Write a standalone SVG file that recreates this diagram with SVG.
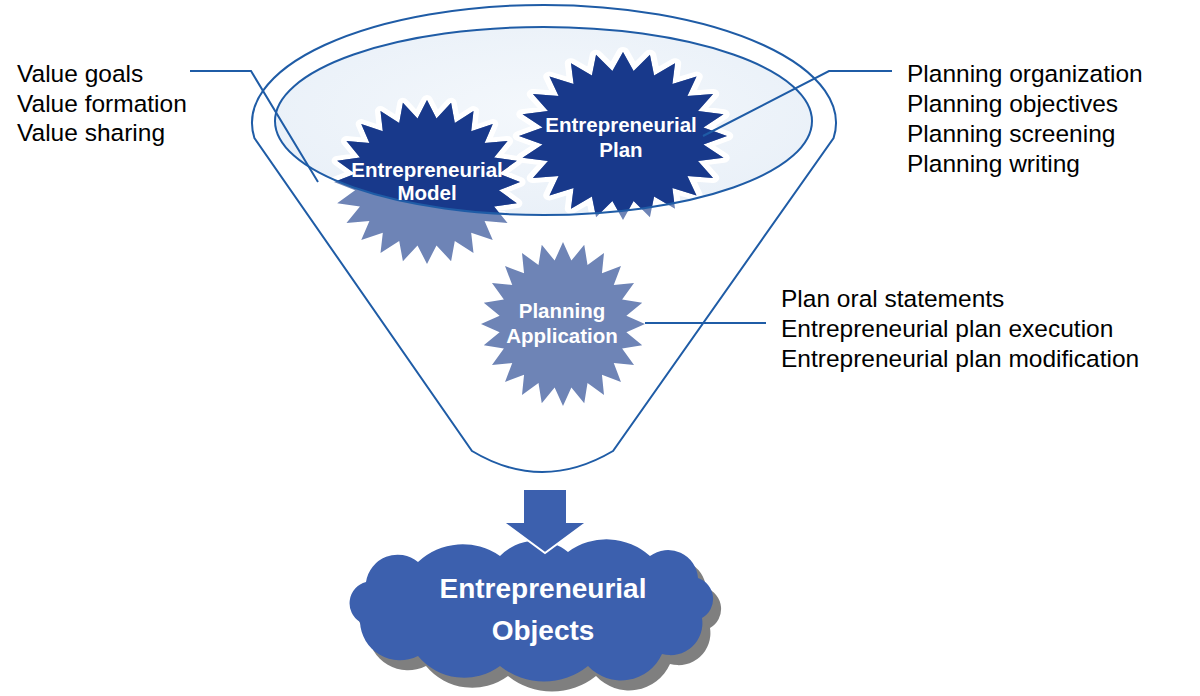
<svg xmlns="http://www.w3.org/2000/svg" xmlns:xlink="http://www.w3.org/1999/xlink" width="1200" height="696" viewBox="0 0 1200 696">
<style>
.line{fill:none;stroke:#1f5ca6;stroke-width:2}
.list{font-family:"Liberation Sans",Arial,sans-serif;font-size:24.5px;fill:#000}
.lbl{font-family:"Liberation Sans",Arial,sans-serif;font-size:20.5px;font-weight:bold;fill:#fff;text-anchor:middle}
.big{font-family:"Liberation Sans",Arial,sans-serif;font-size:28px;font-weight:bold;fill:#fff;text-anchor:middle}
.halo{fill:#fff;stroke:#fff;stroke-width:12;stroke-linejoin:round}
.light{fill:#6e84b6}
.dark{fill:#18398b}
</style>
<defs>
<polygon id="star" points="100,0 77.3,10.2 96.6,25.9 72.1,29.9 86.6,50 61.9,47.5 70.7,70.7 47.5,61.9 50,86.6 29.9,72.1 25.9,96.6 10.2,77.3 0,100 -10.2,77.3 -25.9,96.6 -29.9,72.1 -50,86.6 -47.5,61.9 -70.7,70.7 -61.9,47.5 -86.6,50 -72.1,29.9 -96.6,25.9 -77.3,10.2 -100,0 -77.3,-10.2 -96.6,-25.9 -72.1,-29.9 -86.6,-50 -61.9,-47.5 -70.7,-70.7 -47.5,-61.9 -50,-86.6 -29.9,-72.1 -25.9,-96.6 -10.2,-77.3 0,-100 10.2,-77.3 25.9,-96.6 29.9,-72.1 50,-86.6 47.5,-61.9 70.7,-70.7 61.9,-47.5 86.6,-50 72.1,-29.9 96.6,-25.9 77.3,-10.2"/>
<clipPath id="inner"><ellipse cx="543.5" cy="121" rx="268.5" ry="94"/></clipPath>
<radialGradient id="bowl" cx="0.5" cy="0.45" r="0.6">
<stop offset="0" stop-color="#f4f8fc"/>
<stop offset="1" stop-color="#e9f0f8"/>
</radialGradient>
<path id="cloudShape" d="M360,622 A22,22 0 0 1 366,582 A32,32 0 0 1 418,562 A65,65 0 0 1 500,556 A50,50 0 0 1 568,552 A65,65 0 0 1 650,556 A30,30 0 0 1 698,578 A22,22 0 0 1 702,618 A32,32 0 0 1 662,654 A45,45 0 0 1 588,666 A70,70 0 0 1 500,666 A60,60 0 0 1 418,656 A40,40 0 0 1 360,622 Z"/>
</defs>

<g id="funnel">
<path class="line" style="fill:#fff" d="M254.4,138 A292,118 0 1 1 833.6,138 L613,451 Q542,493 472,451 Z"/>
<ellipse cx="543.5" cy="121" rx="268.5" ry="94" fill="url(#bowl)"/>
</g>

<g id="halos" clip-path="url(#inner)">
<use xlink:href="#star" class="halo" transform="translate(427,182) scale(0.93,0.82)"/>
<use xlink:href="#star" class="halo" transform="translate(623,136) scale(1.04,0.84)"/>
</g>

<g id="model">
<use xlink:href="#star" class="light" transform="translate(427,182) scale(0.93,0.82)"/>
<g clip-path="url(#inner)"><use xlink:href="#star" class="dark" transform="translate(427,182) scale(0.93,0.82)"/></g>
</g>
<g id="plan">
<use xlink:href="#star" class="light" transform="translate(623,136) scale(1.04,0.84)"/>
<g clip-path="url(#inner)"><use xlink:href="#star" class="dark" transform="translate(623,136) scale(1.04,0.84)"/></g>
</g>
<g id="application">
<use xlink:href="#star" class="light" transform="translate(563,324) scale(0.82,0.82)"/>
</g>

<ellipse class="line" cx="543.5" cy="121" rx="268.5" ry="94"/>

<g id="connectors">
<polyline class="line" points="190,71 251,71 318,182"/>
<polyline class="line" points="892,71 829,71 703,136"/>
<line class="line" x1="645" y1="323" x2="766" y2="323"/>
</g>

<g id="star-labels">
<text class="lbl" x="427" y="177">Entrepreneurial</text><text class="lbl" x="427" y="200">Model</text>
<text class="lbl" x="621" y="132">Entrepreneurial</text><text class="lbl" x="621" y="157">Plan</text>
<text class="lbl" x="562" y="318">Planning</text><text class="lbl" x="562" y="343">Application</text>
</g>

<g id="value-list">
<text class="list" x="17" y="82">Value goals</text>
<text class="list" x="17" y="112">Value formation</text>
<text class="list" x="17" y="141">Value sharing</text>
</g>
<g id="planning-list">
<text class="list" x="907" y="82">Planning organization</text>
<text class="list" x="907" y="112">Planning objectives</text>
<text class="list" x="907" y="142">Planning screening</text>
<text class="list" x="907" y="172">Planning writing</text>
</g>
<g id="application-list">
<text class="list" x="781" y="307">Plan oral statements</text>
<text class="list" x="781" y="337">Entrepreneurial plan execution</text>
<text class="list" x="781" y="367">Entrepreneurial plan modification</text>
</g>

<g id="objects">
<use xlink:href="#cloudShape" fill="#7f7f7f" transform="translate(8,10)"/>
<use xlink:href="#cloudShape" fill="#3c60ae"/>
<text class="big" x="543" y="598">Entrepreneurial</text><text class="big" x="543" y="640">Objects</text>
</g>

<g id="arrow">
<polygon points="523,489 567,489 567,522 587,522 545,553 503,522 523,522" fill="#3c60ae" stroke="#fff" stroke-width="2" stroke-linejoin="miter"/>
</g>
</svg>
